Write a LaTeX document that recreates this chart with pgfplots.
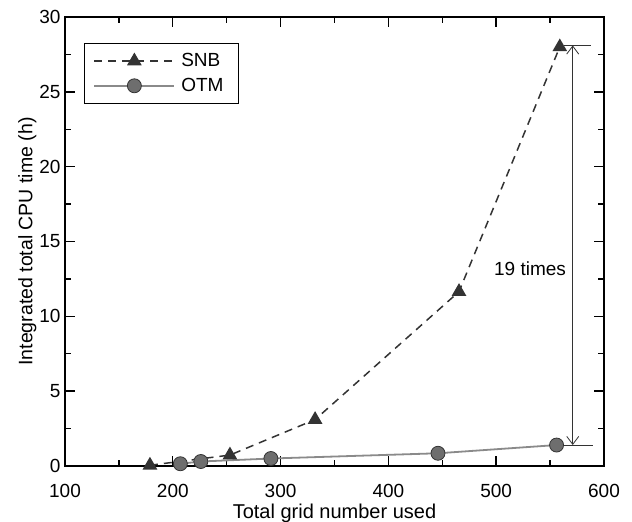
\documentclass[border=0pt]{standalone}
\usepackage{fontspec}
\setmainfont{Liberation Sans}
\usepackage{pgfplots}
\pgfplotsset{compat=1.18}
\usetikzlibrary{arrows.meta}
\definecolor{snb}{HTML}{333333}
\definecolor{otmline}{HTML}{8A8A8A}
\definecolor{otmfill}{HTML}{6E6E6E}
\begin{document}
\begin{tikzpicture}
\useasboundingbox (-65pt,-56pt) rectangle (567pt,466pt);
\begin{axis}[
  scale only axis,
  width=539pt, height=449pt,
  xmin=100, xmax=600, ymin=0, ymax=30,
  xtick={100,200,...,600}, ytick={0,5,...,30},
  minor xtick={150,250,...,550},
  minor ytick={2.5,7.5,...,27.5},
  tick align=inside,
  major tick length=10pt, minor tick length=6pt,
  tick style={black, line width=1.4pt},
  axis line style={black, line width=1.8pt},
  font=\fontsize{19}{22}\selectfont,
  /pgf/number format/assume math mode=true,
  xticklabel style={yshift=-15pt},
  yticklabel style={xshift=-1pt},
  xlabel={Total grid number used},
  ylabel={Integrated total CPU time (h)},
  xlabel style={yshift=1pt, font=\fontsize{20}{22}\selectfont},
  ylabel style={yshift=-4pt, font=\fontsize{19.5}{22}\selectfont},
  legend style={at={(rel axis cs:0.035,0.942)}, anchor=north west,
    draw=black, line width=1.2pt, inner xsep=9pt, inner ysep=8pt,
    font=\fontsize{19}{22}\selectfont, row sep=6pt,
    nodes={inner xsep=6pt}},
  legend cell align=left,
  legend image code/.code={
    \draw[#1] (0pt,0pt) -- (80pt,0pt);
    \draw[#1, solid] plot coordinates {(40pt,0pt)};
  },
  clip=false,
]
\addplot[snb, line width=1.5pt, dash pattern=on 8pt off 6pt,
  mark=triangle*, mark size=7pt, mark options={solid, fill=snb, draw=snb}]
  coordinates {(178.8,0.05) (253,0.73) (332,3.1) (465.5,11.65) (559,28.0)};
\addlegendentry{SNB}
\addplot[otmline, line width=1.8pt,
  mark=*, mark size=7pt, mark options={solid, fill=otmfill, draw=black!80, line width=0.8pt}]
  coordinates {(207,0.15) (226,0.3) (291,0.5) (446,0.85) (556,1.4)};
\addlegendentry{OTM}
\draw[black!80, line width=0.8pt] (axis cs:563,28.1) -- (axis cs:588,28.1);
\draw[black!80, line width=0.8pt] (axis cs:558,1.4) -- (axis cs:590,1.4);
\draw[black!80, line width=0.8pt, {Straight Barb[length=8pt,width=12pt]}-{Straight Barb[length=8pt,width=12pt]}]
  (axis cs:571,28.1) -- (axis cs:571,1.4);
\node[anchor=east, font=\fontsize{19}{22}\selectfont] at (axis cs:568,13.2) {19 times};
\end{axis}
\end{tikzpicture}
\end{document}
